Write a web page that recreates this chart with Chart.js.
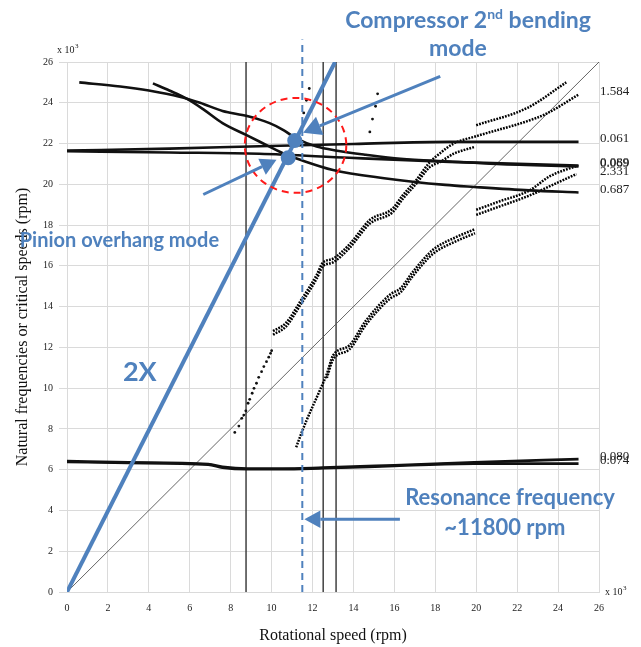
<!DOCTYPE html>
<html>
<head>
<meta charset="utf-8">
<script src="https://cdn.jsdelivr.net/npm/chart.js@4.4.1/dist/chart.umd.min.js"></script>
<style>
    html, body { margin: 0; padding: 0; background: #fff; }
</style>
</head>
<body>
<canvas id="campbell" width="641" height="647"></canvas>
<script>
// axis ticks (x 10^3 rpm)
var xTicks = [0, 2, 4, 6, 8, 10, 12, 14, 16, 18, 20, 22, 24, 26];
var yTicks = [0, 2, 4, 6, 8, 10, 12, 14, 16, 18, 20, 22, 24, 26];

// solid natural frequency curves [speed, frequency]
var curveA = [[0.6, 25.0], [2.6, 24.8], [4.0, 24.6], [5.5, 24.3], [6.5, 24.0], [7.6, 23.6], [8.8, 23.35], [9.9, 23.0], [10.6, 22.65], [11.2, 22.25], [12.2, 21.85], [13.2, 21.65], [14.6, 21.45], [16.3, 21.25], [18.7, 21.12], [21.0, 21.0], [25.0, 20.88]];
var curveB = [[4.2, 24.95], [5.0, 24.6], [5.85, 24.2], [6.7, 23.65], [7.6, 23.0], [8.8, 22.4], [9.4, 22.1], [10.6, 21.5], [11.4, 21.2], [13.0, 20.7], [15.5, 20.3], [18.5, 19.97], [19.9, 19.87], [22.6, 19.7], [25.0, 19.6]];
var curveC = [[0, 21.65], [5, 21.75], [9.4, 21.87], [14, 21.98], [18.7, 22.08], [25.0, 22.08]];
var curveD = [[0, 21.62], [5, 21.56], [9.4, 21.5], [13.8, 21.3], [18.7, 21.1], [25.0, 20.92]];
var curveK1 = [[0, 6.42], [3, 6.36], [6.9, 6.28], [7.6, 6.14], [8.8, 6.05], [10.5, 6.05], [12.5, 6.1], [16, 6.22], [19.9, 6.36], [25.0, 6.52]];
var curveK2 = [[0, 6.38], [3, 6.33], [6.9, 6.25], [7.6, 6.1], [8.8, 6.02], [10.5, 6.02], [12.5, 6.07], [16, 6.18], [19.9, 6.3], [25.0, 6.3]];

// point-by-point (chained) curves
var curveF1 = [[10.07, 12.8], [10.7, 13.2], [11.4, 14.25], [12.2, 15.55], [12.5, 16.15], [13.0, 16.35], [13.8, 17.05], [14.8, 18.25], [15.9, 18.8], [16.4, 19.45], [17.1, 20.25], [17.7, 21.05], [18.2, 21.5], [18.9, 22.0], [20.0, 22.36], [22.5, 23.1], [23.4, 23.45], [25.0, 24.4]];
var curveF2 = [[10.07, 12.62], [10.7, 13.02], [11.4, 14.07], [12.2, 15.37], [12.5, 15.97], [13.0, 16.17], [13.8, 16.87], [14.8, 18.07], [15.9, 18.62], [16.4, 19.27], [17.1, 20.07], [17.7, 20.82], [18.24, 21.1], [18.9, 21.5], [19.94, 21.84]];
var curveG1 = [[11.2, 7.1], [11.46, 7.8], [11.7, 8.4], [12.36, 9.9], [12.7, 10.7], [13.0, 11.6], [13.8, 12.1], [14.6, 13.3], [15.8, 14.6], [16.3, 14.9], [16.9, 15.7], [17.9, 16.8], [19.0, 17.4], [19.94, 17.8]];
var curveG2 = [[12.7, 10.5], [13.0, 11.4], [13.8, 11.9], [14.6, 13.1], [15.8, 14.4], [16.3, 14.7], [16.9, 15.5], [17.9, 16.6], [19.0, 17.2], [19.94, 17.6]];
var curveH1 = [[20.0, 18.75], [21.1, 19.15], [22.6, 19.7], [23.6, 20.4], [24.9, 20.9]];
var curveH2 = [[20.0, 18.5], [21.1, 18.9], [22.6, 19.45], [23.8, 20.0], [24.9, 20.5]];
var curveJ = [[20.0, 22.9], [22.5, 23.75], [24.4, 25.0]];

// scattered single points
var dotsE = [[8.2, 7.83], [8.4, 8.14], [8.54, 8.52], [8.64, 8.68], [8.74, 8.89], [8.85, 9.26], [8.93, 9.45], [9.05, 9.75], [9.14, 9.99], [9.26, 10.24], [9.37, 10.53], [9.51, 10.81], [9.62, 11.06], [9.75, 11.3], [9.86, 11.52], [9.95, 11.71], [10.0, 11.84]];
var dotsTop = [[11.84, 24.7], [11.7, 24.12], [11.57, 23.5], [15.18, 24.44], [15.08, 23.83], [14.93, 23.2], [14.8, 22.57]];

// tags printed at the right end of curves
var tagA = '0.069', tagB = '0.687', tagC = '0.061', tagD = '0.089';
var tagF1 = '1.584', tagH2 = '2.331', tagK1 = '0.080', tagK2 = '0.074';

// excitation lines and operating speeds
var line1X = [[0, 0], [26, 26]];
var line2X = [[0, 0], [13.1, 26]];
var speedLines = [8.75, 12.52, 13.15];
var resonanceSpeed = 11.5;
var modePoints = [[11.13, 22.15], [10.81, 21.3]];

var blue = '#4f81bd';
var black = '#111111';

function pts(arr) {
    return arr.map(function (p) { return { x: p[0], y: p[1] }; });
}

var datasets = [];
function addSolid(data, tag) {
    datasets.push({ data: pts(data), borderColor: black, borderWidth: 2.6, pointRadius: 0,
        cubicInterpolationMode: 'monotone', tag: tag, order: 5 });
}
function addChain(data, tag) {
    datasets.push({ data: pts(data), borderColor: '#000', borderWidth: 2.5, borderDash: [1.8, 1.2],
        pointRadius: 0, cubicInterpolationMode: 'monotone', tag: tag, order: 5 });
}
function addDots(data) {
    datasets.push({ data: pts(data), showLine: false, pointRadius: 1.4, pointBorderWidth: 0,
        pointBackgroundColor: black, order: 5 });
}

addSolid(curveA, tagA);
addSolid(curveB, tagB);
addSolid(curveC, tagC);
addSolid(curveD, tagD);
addSolid(curveK1, tagK1);
addSolid(curveK2, tagK2);
addChain(curveF1, tagF1);
addChain(curveF2);
addChain(curveG1);
addChain(curveG2);
addChain(curveH1);
addChain(curveH2, tagH2);
addChain(curveJ);
addDots(dotsE);
addDots(dotsTop);

datasets.push({ data: pts(line1X), borderColor: '#555', borderWidth: 0.9, pointRadius: 0, order: 6 });
speedLines.forEach(function (s) {
    datasets.push({ data: pts([[s, 0], [s, 26]]), borderColor: '#333', borderWidth: 1.4, pointRadius: 0, order: 6 });
});
datasets.push({ data: pts([[resonanceSpeed, 0], [resonanceSpeed, 27.1]]), borderColor: blue, borderWidth: 2,
    borderDash: [7, 5], pointRadius: 0, clip: false, order: 2 });
datasets.push({ data: pts(line2X), borderColor: blue, borderWidth: 4, pointRadius: 0, order: 1 });
datasets.push({ data: pts(modePoints), showLine: false, pointRadius: 7.5, pointBorderWidth: 0,
    pointBackgroundColor: blue, order: 0 });

function arrow(ctx, x1, y1, x2, y2, head) {
    var a = Math.atan2(y2 - y1, x2 - x1);
    var bx = x2 - head * Math.cos(a), by = y2 - head * Math.sin(a);
    ctx.beginPath();
    ctx.moveTo(x1, y1);
    ctx.lineTo(bx, by);
    ctx.stroke();
    ctx.beginPath();
    ctx.moveTo(x2, y2);
    ctx.lineTo(bx + head * 0.55 * Math.sin(a), by - head * 0.55 * Math.cos(a));
    ctx.lineTo(bx - head * 0.55 * Math.sin(a), by + head * 0.55 * Math.cos(a));
    ctx.closePath();
    ctx.fill();
}

function powerLabel(ctx, x, y) {
    ctx.font = '10px "Liberation Serif"';
    ctx.fillStyle = '#222';
    ctx.textAlign = 'left';
    ctx.textBaseline = 'alphabetic';
    ctx.fillText('x 10', x, y);
    var w = ctx.measureText('x 10').width;
    ctx.font = '7px "Liberation Serif"';
    ctx.fillText('3', x + w + 0.5, y - 5);
}

var overlay = {
    id: 'overlay',
    afterDatasetsDraw: function (chart) {
        var ctx = chart.ctx;
        var xs = chart.scales.x, ys = chart.scales.y;
        var area = chart.chartArea;
        function px(v) { return xs.getPixelForValue(v); }
        function py(v) { return ys.getPixelForValue(v); }
        ctx.save();

        // red dashed circle around the crossing
        ctx.strokeStyle = '#ff1a1a';
        ctx.lineWidth = 2;
        ctx.setLineDash([7, 5]);
        ctx.beginPath();
        ctx.ellipse(px(11.17), py(21.91), px(2.48) - px(0), py(0) - py(2.33), 0, 0, Math.PI * 2);
        ctx.stroke();
        ctx.setLineDash([]);

        // arrows
        ctx.strokeStyle = blue;
        ctx.fillStyle = blue;
        ctx.lineWidth = 3;
        arrow(ctx, px(18.24), py(25.3), px(11.54), py(22.53), 18);
        arrow(ctx, px(6.66), py(19.5), px(10.24), py(21.2), 16);
        arrow(ctx, px(16.27), py(3.57), px(11.6), py(3.57), 16);

        // notes
        ctx.fillStyle = blue;
        ctx.textBaseline = 'alphabetic';
        var big = 'bold 23px Lato', sup = 'bold 14px Lato';
        ctx.font = big;
        var w1 = ctx.measureText('Compressor 2').width;
        var w3 = ctx.measureText(' bending').width;
        ctx.font = sup;
        var w2 = ctx.measureText('nd').width;
        var sx = px(19.6) - (w1 + w2 + w3) / 2, sy = py(27.65);
        ctx.textAlign = 'left';
        ctx.font = big;
        ctx.fillText('Compressor 2', sx, sy);
        ctx.font = sup;
        ctx.fillText('nd', sx + w1, sy - 9);
        ctx.font = big;
        ctx.fillText(' bending', sx + w1 + w2, sy);
        ctx.textAlign = 'center';
        ctx.fillText('mode', px(19.1), py(26.27));

        ctx.textBaseline = 'middle';
        ctx.textAlign = 'left';
        ctx.font = 'bold 20px Lato';
        ctx.fillText('Pinion overhang mode', px(-2.31), py(17.23));
        ctx.textAlign = 'center';
        ctx.font = 'bold 27px Lato';
        ctx.fillText('2X', px(3.56), py(10.8));
        ctx.font = 'bold 22px Lato';
        ctx.fillText('Resonance frequency', px(21.65), py(4.6));
        ctx.fillText('~11800 rpm', px(21.4), py(3.13));

        // curve tags on the right
        ctx.fillStyle = '#222';
        ctx.font = '13px "Liberation Serif"';
        ctx.textAlign = 'left';
        chart.data.datasets.forEach(function (ds) {
            if (!ds.tag) return;
            var last = ds.data[ds.data.length - 1];
            ctx.fillText(ds.tag, area.right + 1, py(last.y) - 3);
        });

        powerLabel(ctx, area.left - 10, area.top - 9);
        powerLabel(ctx, area.right + 6, area.bottom + 3);
        ctx.restore();
    }
};

var tickFont = { family: 'Liberation Serif', size: 10 };
var gridColor = '#dadada';

new Chart(document.getElementById('campbell'), {
    type: 'line',
    data: { datasets: datasets },
    options: {
        responsive: false,
        animation: false,
        layout: { padding: { top: 62, right: 42, left: 0, bottom: 0 } },
        plugins: { legend: { display: false }, tooltip: { enabled: false } },
        scales: {
            x: {
                type: 'linear',
                min: 0,
                max: 26,
                afterBuildTicks: function (s) { s.ticks = xTicks.map(function (v) { return { value: v }; }); },
                afterFit: function (s) { s.height = 55; },
                ticks: { font: tickFont, color: '#222', padding: 10, maxRotation: 0 },
                grid: { color: gridColor, drawTicks: false },
                border: { color: gridColor },
                title: { display: true, text: 'Rotational speed (rpm)', color: '#111',
                    font: { family: 'Liberation Serif', size: 16 }, padding: { top: 0, bottom: 2 } }
            },
            y: {
                type: 'linear',
                min: 0,
                max: 26,
                afterBuildTicks: function (s) { s.ticks = yTicks.map(function (v) { return { value: v }; }); },
                afterFit: function (s) { s.width = 67; },
                ticks: { font: tickFont, color: '#222', padding: 6 },
                grid: { color: gridColor, tickLength: 8 },
                border: { color: gridColor },
                title: { display: true, text: 'Natural frequencies or critical speeds (rpm)', color: '#111',
                    font: { family: 'Liberation Serif', size: 16 }, padding: { top: 13, bottom: 0 } }
            }
        }
    },
    plugins: [overlay]
});
</script>
</body>
</html>
